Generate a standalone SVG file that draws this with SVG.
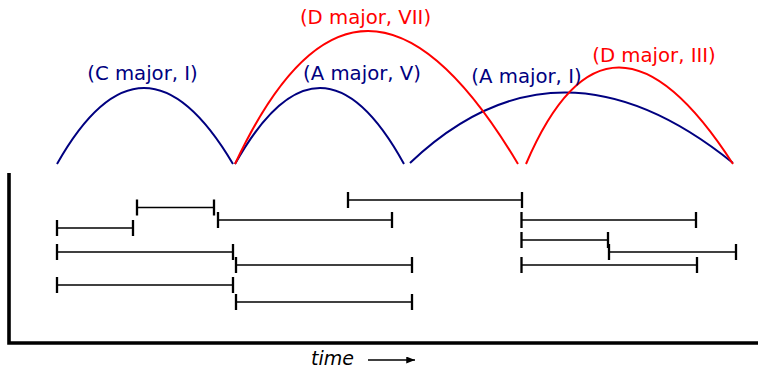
<svg xmlns="http://www.w3.org/2000/svg" width="758" height="369" viewBox="0 0 758 369">
<defs>
<style>
.lbl{font-family:"DejaVu Sans",sans-serif;font-size:19.7px;text-anchor:middle}
.blue{fill:#000080}
.red{fill:#ff0000}
.arcB{fill:none;stroke:#000080;stroke-width:2}
.arcR{fill:none;stroke:#ff0000;stroke-width:2}
.iv{fill:none;stroke:#000;stroke-width:1.7}
.tk{fill:none;stroke:#000;stroke-width:2.3}
.ax{fill:none;stroke:#000;stroke-width:3.6}
</style>
<marker id="ah" viewBox="0 0 10 8" refX="10" refY="4" markerWidth="10" markerHeight="7" markerUnits="userSpaceOnUse" orient="auto">
<path d="M0,0 L10,4 L0,8 z" fill="#000"/>
</marker>
</defs>
<rect width="758" height="369" fill="#fff"/>
<g id="axes">
<path class="ax" d="M9,173 V343 H758"/>
</g>
<g id="connectors">
<path class="arcB" d="M57,164 Q143,12 233,164"/>
<path class="arcB" d="M235,164 Q320.5,12 404,164"/>
<path class="arcB" d="M410,163 Q558.5,22 733,163"/>
<path class="arcR" d="M235,164 Q359.5,-102 518,164"/>
<path class="arcR" d="M526,164 Q608.5,-29 733,164"/>
</g>
<g id="labels">
<text id="n1" class="lbl blue" x="142.5" y="80">(C major, I)</text>
<text id="n2" class="lbl red" x="365.5" y="24">(D major, VII)</text>
<text id="n3" class="lbl blue" x="362" y="80">(A major, V)</text>
<text id="n4" class="lbl blue" x="526.5" y="83">(A major, I)</text>
<text id="n5" class="lbl red" x="654" y="61.5">(D major, III)</text>
</g>
<g id="intervals">
<g id="i1"><path class="iv" d="M137,207.5 H214"/><path class="tk" d="M137,199.5 v16 M214,199.5 v16"/></g>
<g id="i2"><path class="iv" d="M218,220 H392"/><path class="tk" d="M218,212 v16 M392,212 v16"/></g>
<g id="i3"><path class="iv" d="M57,228 H133"/><path class="tk" d="M57,220 v16 M133,220 v16"/></g>
<g id="i4"><path class="iv" d="M57,252 H233"/><path class="tk" d="M57,244 v16 M233,244 v16"/></g>
<g id="i5"><path class="iv" d="M236,265 H412"/><path class="tk" d="M236,257 v16 M412,257 v16"/></g>
<g id="i6"><path class="iv" d="M57,285 H233"/><path class="tk" d="M57,277 v16 M233,277 v16"/></g>
<g id="i7"><path class="iv" d="M236,302 H412"/><path class="tk" d="M236,294 v16 M412,294 v16"/></g>
<g id="i8"><path class="iv" d="M348,200 H522"/><path class="tk" d="M348,192 v16 M522,192 v16"/></g>
<g id="i9"><path class="iv" d="M521.5,220 H696"/><path class="tk" d="M521.5,212 v16 M696,212 v16"/></g>
<g id="i10"><path class="iv" d="M521.5,240 H608"/><path class="tk" d="M521.5,232 v16 M608,232 v16"/></g>
<g id="i11"><path class="iv" d="M609,252 H736"/><path class="tk" d="M609,244 v16 M736,244 v16"/></g>
<g id="i12"><path class="iv" d="M521.5,265 H697"/><path class="tk" d="M521.5,257 v16 M697,257 v16"/></g>
</g>
<g id="time">
<text x="311" y="365" style="font-family:'DejaVu Sans',sans-serif;font-size:19px;font-style:italic">time</text>
<path d="M368,360 H415" stroke="#000" stroke-width="1.7" fill="none" marker-end="url(#ah)"/>
</g>
</svg>
